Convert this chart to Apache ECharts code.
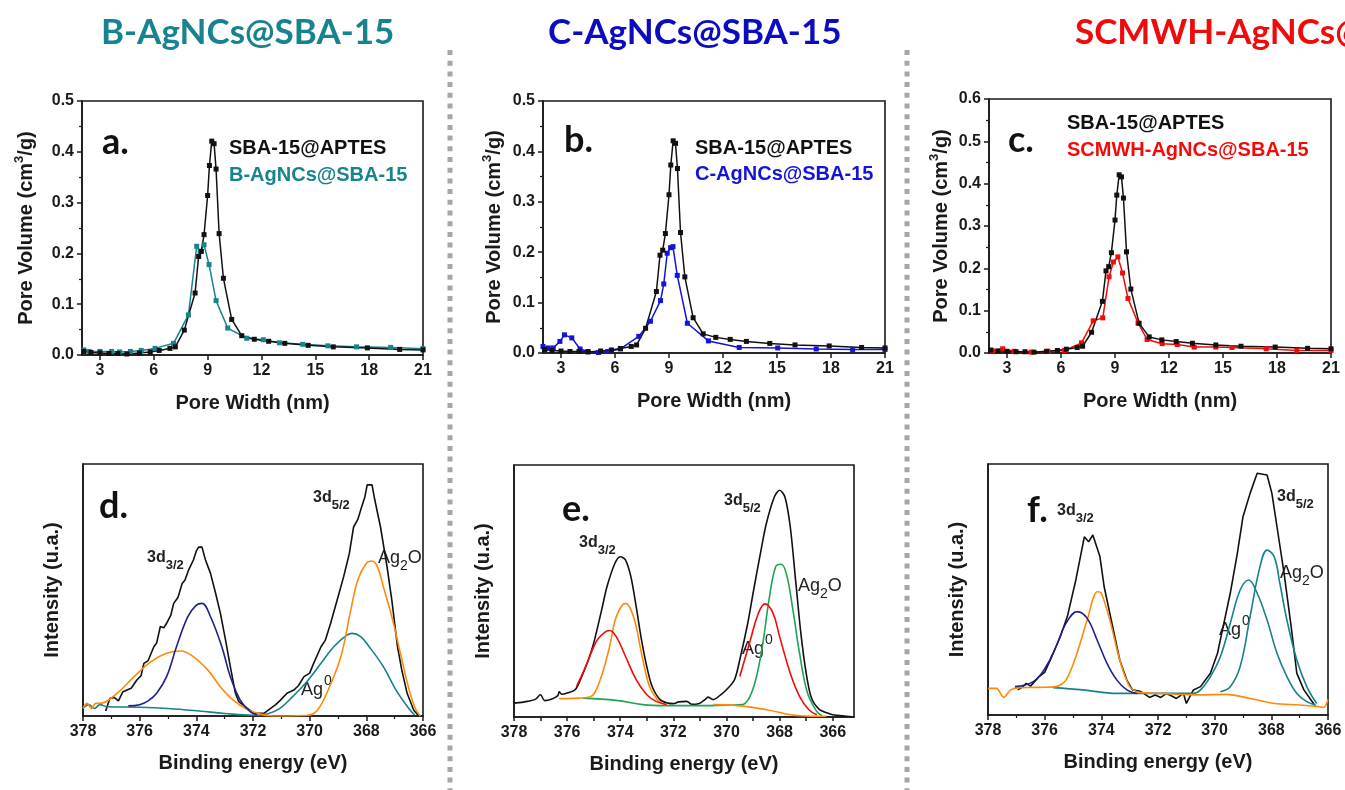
<!DOCTYPE html>
<html>
<head>
<meta charset="utf-8">
<script src="https://cdn.jsdelivr.net/npm/echarts@6/dist/echarts.min.js"></script>
<style>
  html, body { margin: 0; padding: 0; background: #fff; }
  #main { width: 1345px; height: 790px; }
</style>
</head>
<body>
<div id="main"></div>
<script>
// pore size distribution (nm, cm3/g)
var aptesX = [2.1, 2.5, 3.0, 3.5, 4.0, 4.5, 5.2, 5.8, 6.3, 6.9, 7.2, 7.7, 8.3, 8.5, 8.65, 8.8, 9.0, 9.1, 9.23, 9.36, 9.47, 9.64, 9.88, 10.34, 10.9, 11.6, 12.4, 13.3, 14.6, 16.0, 17.9, 19.7, 21];
var aptesY = [0.007, 0.005, 0.004, 0.003, 0.003, 0.002, 0.004, 0.006, 0.009, 0.013, 0.016, 0.049, 0.122, 0.194, 0.204, 0.237, 0.314, 0.373, 0.421, 0.416, 0.366, 0.239, 0.151, 0.070, 0.038, 0.031, 0.027, 0.023, 0.019, 0.016, 0.014, 0.011, 0.010];
var bAgX = [2.1, 2.4, 3.0, 3.65, 4.1, 4.7, 5.3, 6.07, 7.1, 7.93, 8.39, 8.58, 8.8, 9.08, 9.47, 10.12, 11.18, 12.1, 13.0, 14.3, 15.7, 17.3, 19.2, 21];
var bAgY = [0.010, 0.007, 0.007, 0.007, 0.006, 0.007, 0.009, 0.013, 0.023, 0.079, 0.214, 0.204, 0.217, 0.178, 0.107, 0.053, 0.033, 0.030, 0.024, 0.021, 0.018, 0.016, 0.015, 0.0125];
var cAgX = [2.0, 2.29, 2.57, 2.94, 3.19, 3.6, 4.06, 4.5, 5.08, 5.6, 6.3, 7.32, 7.97, 8.53, 8.71, 8.9, 9.09, 9.22, 9.46, 10.02, 11.19, 12.9, 15.04, 17.18, 19.2, 21];
var cAgY = [0.013, 0.010, 0.010, 0.023, 0.036, 0.030, 0.008, 0.003, 0.001, 0.003, 0.008, 0.033, 0.063, 0.104, 0.137, 0.198, 0.209, 0.211, 0.154, 0.059, 0.024, 0.011, 0.010, 0.008, 0.007, 0.007];
var sAgX = [2.2, 2.76, 3.4, 4.34, 5.28, 6.2, 7.14, 7.79, 8.32, 8.67, 8.91, 9.16, 9.42, 9.72, 10.28, 10.78, 11.62, 12.46, 13.4, 14.6, 15.5, 17.4, 19.1, 21];
var sAgY = [0.005, 0.010, 0.004, 0.002, 0.004, 0.006, 0.024, 0.076, 0.083, 0.180, 0.215, 0.227, 0.189, 0.129, 0.071, 0.032, 0.022, 0.020, 0.014, 0.014, 0.013, 0.010, 0.006, 0.006];
var poreTicks = [3, 6, 9, 12, 15, 18, 21];

// XPS Ag 3d, [binding energy eV, relative intensity]
var dEnv = [[377.2,0.02],[377.05,0.07],[376.9,0.074],[376.75,0.06],[376.6,0.095],[376.45,0.103],[376.3,0.11],[376.1,0.143],[375.95,0.16],[375.85,0.209],[375.7,0.22],[375.5,0.275],[375.4,0.29],[375.27,0.355],[375.15,0.35],[375.05,0.368],[374.9,0.4],[374.8,0.447],[374.65,0.47],[374.5,0.526],[374.4,0.54],[374.27,0.58],[374.1,0.62],[374.0,0.655],[373.92,0.67],[373.8,0.67],[373.68,0.62],[373.5,0.566],[373.32,0.487],[373.15,0.407],[372.97,0.302],[372.8,0.196],[372.62,0.09],[372.5,0.057],[372.2,0.03],[371.96,0.011],[371.6,0.011],[371.38,0.03],[371.2,0.045],[371.03,0.063],[370.8,0.09],[370.56,0.103],[370.4,0.12],[370.2,0.156],[370.0,0.17],[369.86,0.209],[369.6,0.275],[369.45,0.3],[369.26,0.368],[369.03,0.46],[368.8,0.553],[368.6,0.645],[368.45,0.75],[368.3,0.78],[368.2,0.817],[368.05,0.87],[367.97,0.917],[367.8,0.917],[367.7,0.857],[367.5,0.75],[367.27,0.593],[367.1,0.46],[366.9,0.275],[366.75,0.183],[366.56,0.09],[366.33,0.024],[366.15,0.0]];
var dNavy = [[376.4,0.04],[376.0,0.045],[375.7,0.06],[375.4,0.09],[375.05,0.156],[374.7,0.275],[374.3,0.394],[374.0,0.44],[373.8,0.447],[373.5,0.394],[373.1,0.275],[372.8,0.156],[372.45,0.063],[372.1,0.017],[371.85,0.004]];
var dOrange = [[378,0.03],[377.85,0.05],[377.7,0.03],[377.55,0.05],[377.4,0.05],[376.8,0.09],[376.2,0.156],[375.6,0.216],[375.05,0.249],[374.55,0.258],[374.1,0.235],[373.6,0.183],[373.15,0.116],[372.7,0.063],[372.2,0.026],[371.75,0.008],[371.3,0.0],[370.2,0.002],[369.85,0.01],[369.6,0.044],[369.3,0.116],[368.9,0.235],[368.55,0.42],[368.3,0.54],[368.0,0.606],[367.8,0.615],[367.6,0.59],[367.4,0.513],[367.1,0.394],[366.8,0.25],[366.55,0.13],[366.3,0.037],[366.1,0.0]];
var dTeal = [[378,0.03],[377.8,0.045],[377.6,0.03],[377.4,0.045],[377.15,0.037],[376,0.035],[375,0.03],[373.9,0.02],[373,0.01],[372,0.003],[371.5,0.008],[371.05,0.03],[370.6,0.077],[370.1,0.136],[369.6,0.209],[369.15,0.275],[368.7,0.32],[368.5,0.328],[368.2,0.315],[367.9,0.275],[367.4,0.196],[366.95,0.103],[366.5,0.03],[366.3,0.004]];

var eEnv = [[378,0.055],[377.7,0.058],[377.5,0.062],[377.2,0.07],[377.0,0.088],[376.85,0.065],[376.6,0.07],[376.35,0.085],[376.3,0.1],[376.2,0.09],[376.0,0.095],[375.7,0.108],[375.5,0.148],[375.2,0.227],[375.0,0.293],[374.7,0.425],[374.5,0.517],[374.2,0.61],[374.0,0.636],[373.8,0.623],[373.6,0.557],[373.4,0.438],[373.2,0.306],[373.0,0.2],[372.8,0.121],[372.5,0.069],[372.2,0.055],[372.0,0.053],[371.8,0.06],[371.5,0.062],[371.3,0.05],[371.0,0.055],[370.8,0.07],[370.7,0.079],[370.5,0.069],[370.2,0.09],[370.0,0.108],[369.7,0.148],[369.5,0.227],[369.2,0.372],[369.0,0.491],[368.7,0.662],[368.5,0.768],[368.2,0.873],[368.0,0.9],[367.8,0.873],[367.6,0.755],[367.4,0.544],[367.2,0.332],[367.0,0.174],[366.8,0.075],[366.5,0.029],[366.2,0.016],[366.0,0.009],[365.5,0.003],[365.2,0.0]];
var eRedLow = [[375.65,0.121],[375.3,0.2],[374.9,0.3],[374.6,0.335],[374.4,0.343],[374.15,0.319],[373.8,0.24],[373.4,0.148],[373.0,0.088],[372.65,0.062],[372.25,0.049]];
var eRedHigh = [[369.5,0.161],[369.1,0.306],[368.8,0.412],[368.55,0.449],[368.25,0.412],[368.0,0.319],[367.6,0.174],[367.25,0.082],[366.9,0.029],[366.6,0.009]];
var eOrangePeak = [[376.3,0.073],[375.6,0.075],[375.15,0.079],[374.8,0.135],[374.4,0.28],[374.15,0.398],[373.8,0.451],[373.5,0.398],[373.2,0.253],[372.9,0.121],[372.6,0.069],[372.3,0.049]];
var eOrangeBase = [[370.5,0.049],[369.6,0.045],[368.5,0.029],[367.25,0.005],[366.25,0.003]];
var eGreen = [[375.4,0.075],[374.15,0.066],[373.15,0.049],[372.3,0.045],[371,0.045],[370,0.047],[369.4,0.049],[369.15,0.075],[368.9,0.148],[368.65,0.28],[368.4,0.464],[368.15,0.596],[367.95,0.606],[367.75,0.57],[367.5,0.425],[367.25,0.253],[366.95,0.095],[366.6,0.022],[366.4,0.005]];
var eTicks = [366, 368, 370, 372, 374, 376, 378];
var eMinorTicks = [365, 366, 367, 368, 369, 370, 371, 372, 373, 374, 375, 376, 377, 378];

var fEnv = [[376.95,0.1],[376.8,0.11],[376.65,0.126],[376.5,0.115],[376.2,0.153],[376.0,0.17],[375.8,0.219],[375.45,0.312],[375.2,0.392],[374.9,0.538],[374.6,0.71],[374.45,0.69],[374.3,0.717],[374.05,0.631],[373.9,0.511],[373.6,0.352],[373.35,0.219],[373.1,0.139],[372.9,0.1],[372.6,0.093],[372.3,0.07],[372.1,0.08],[371.9,0.07],[371.7,0.086],[371.5,0.075],[371.35,0.066],[371.1,0.086],[371.0,0.046],[370.75,0.1],[370.5,0.113],[370.15,0.166],[369.9,0.246],[369.7,0.352],[369.45,0.485],[369.2,0.644],[369.0,0.79],[368.75,0.883],[368.5,0.963],[368.15,0.956],[367.98,0.883],[367.8,0.75],[367.55,0.564],[367.3,0.352],[367.1,0.166],[366.85,0.1],[366.6,0.06],[366.45,0.036]];
var fNavy = [[377.05,0.113],[376.4,0.133],[375.95,0.193],[375.6,0.272],[375.25,0.365],[374.85,0.412],[374.5,0.385],[374.15,0.299],[373.8,0.206],[373.45,0.139],[373.1,0.1],[372.75,0.086]];
var fOrange = [[378,0.106],[377.7,0.106],[377.45,0.07],[377.2,0.1],[376.9,0.109],[376.2,0.11],[375.6,0.113],[375.25,0.139],[374.9,0.232],[374.5,0.378],[374.15,0.491],[374.0,0.485],[373.7,0.378],[373.35,0.219],[373.0,0.113],[372.65,0.09],[371.9,0.086],[370.5,0.08],[369.6,0.082],[368.75,0.066],[367.9,0.046],[367,0.04],[366.3,0.033],[366.15,0.03],[366.0,0.062]];
var fTealAg0 = [[375.7,0.109],[374.65,0.1],[373.45,0.086],[372.3,0.086],[370.75,0.086],[370.5,0.1],[370.15,0.153],[369.8,0.232],[369.45,0.365],[369.1,0.498],[368.8,0.538],[368.5,0.485],[368.15,0.378],[367.8,0.246],[367.45,0.153],[367.1,0.086],[366.75,0.053],[366.45,0.04]];
var fTealAg2O = [[369.8,0.093],[369.45,0.113],[369.1,0.193],[368.75,0.392],[368.4,0.591],[368.15,0.657],[367.9,0.631],[367.7,0.525],[367.45,0.378],[367.1,0.219],[366.75,0.113],[366.4,0.046]];

var chart = echarts.init(document.getElementById('main'));

var AX = '#1a1a1a';
var FONT = '"Liberation Sans", Arial, sans-serif';
var TITLE_FONT = 'Lato, "Open Sans", sans-serif';
var C_TEAL = '#17838f', C_BLUE = '#1414d8', C_RED = '#f50a0a';
var C_NAVY = '#1f1f8c', C_ORANGE = '#ff8a0a', C_GREEN = '#1fa352', C_XTEAL = '#16808c';

function zip(xs, ys) {
  return xs.map(function (x, i) { return [x, ys[i]]; });
}

var grids = [
  {left: 82, top: 101, width: 341, height: 254},
  {left: 543, top: 101, width: 342, height: 252},
  {left: 989, top: 99, width: 342, height: 254},
  {left: 83, top: 464, width: 340, height: 252},
  {left: 514, top: 465, width: 340, height: 252},
  {left: 988, top: 464, width: 340, height: 251}
].map(function (g) {
  g.show = true; g.borderColor = AX; g.borderWidth = 1.6; g.backgroundColor = 'transparent';
  g.containLabel = false;
  return g;
});

var nameRich = {
  sup: {fontSize: 13, fontWeight: 'bold', fontFamily: FONT, color: AX, padding: [0, 0, 10, 0], verticalAlign: 'bottom', lineHeight: 13},
  n: {fontSize: 20, fontWeight: 'bold', fontFamily: FONT, color: AX, verticalAlign: 'bottom', lineHeight: 22}
};
var labelStyle = {color: AX, fontSize: 16, fontWeight: 'bold', fontFamily: FONT, margin: 8};
var nameStyle = {color: AX, fontSize: 20, fontWeight: 'bold', fontFamily: FONT};

function poreX(i) {
  return {
    gridIndex: i, type: 'value', min: 2, max: 21,
    axisLine: {onZero: false, lineStyle: {color: AX, width: 1.6}},
    axisTick: {customValues: poreTicks, length: 5, lineStyle: {color: AX, width: 1.5}},
    axisLabel: Object.assign({customValues: poreTicks}, labelStyle),
    splitLine: {show: false},
    name: 'Pore Width (nm)', nameLocation: 'middle', nameGap: 38,
    nameTextStyle: nameStyle
  };
}
function poreY(i, max, gap) {
  return {
    gridIndex: i, type: 'value', min: 0, max: max, interval: 0.1,
    axisLine: {lineStyle: {color: AX, width: 1.6}},
    axisTick: {length: 5, lineStyle: {color: AX, width: 1.5}},
    minorTick: {show: true, splitNumber: 2, length: 3, lineStyle: {color: AX, width: 1.2}},
    axisLabel: Object.assign({formatter: function (v) { return v.toFixed(1); }}, labelStyle),
    splitLine: {show: false},
    name: '{n|Pore Volume (cm}{sup|3}{n|/g)}', nameLocation: 'middle', nameGap: gap,
    nameTextStyle: {rich: nameRich}
  };
}
function xpsX(i, min, ticks, minor) {
  var ax = {
    gridIndex: i, type: 'value', min: min, max: 378, inverse: true,
    axisLine: {onZero: false, lineStyle: {color: AX, width: 1.6}},
    axisTick: {length: 5, lineStyle: {color: AX, width: 1.5}},
    axisLabel: Object.assign({}, labelStyle),
    splitLine: {show: false},
    name: 'Binding energy (eV)', nameLocation: 'middle', nameGap: 37,
    nameTextStyle: nameStyle
  };
  if (ticks) {
    ax.axisTick.customValues = minor;
    ax.axisTick.length = 4;
    ax.axisLabel.customValues = ticks;
  } else {
    ax.interval = 2;
    ax.minorTick = {show: true, splitNumber: 2, length: 3, lineStyle: {color: AX, width: 1.2}};
  }
  return ax;
}
function xpsY(i) {
  return {
    gridIndex: i, type: 'value', min: 0, max: 1,
    axisLine: {lineStyle: {color: AX, width: 1.6}},
    axisTick: {show: false}, axisLabel: {show: false}, splitLine: {show: false},
    name: 'Intensity (u.a.)', nameLocation: 'middle', nameGap: 21,
    nameTextStyle: nameStyle
  };
}

function pore(data, i, color) {
  return {
    type: 'line', xAxisIndex: i, yAxisIndex: i, data: data,
    symbol: 'rect', symbolSize: 5, showSymbol: true,
    lineStyle: {color: color, width: 1.5}, itemStyle: {color: color}
  };
}
function xps(data, i, color, smooth) {
  return {
    type: 'line', xAxisIndex: i, yAxisIndex: i, data: data,
    showSymbol: false, smooth: smooth || false,
    lineStyle: {color: color, width: 1.6}, itemStyle: {color: color}
  };
}

var series = [
  pore(zip(bAgX, bAgY), 0, C_TEAL),
  pore(zip(aptesX, aptesY), 0, '#111'),
  pore(zip(cAgX, cAgY), 1, C_BLUE),
  pore(zip(aptesX, aptesY), 1, '#111'),
  pore(zip(sAgX, sAgY), 2, C_RED),
  pore(zip(aptesX, aptesY), 2, '#111'),

  xps(dEnv, 3, '#111'),
  xps(dTeal, 3, C_XTEAL, 0.4),
  xps(dOrange, 3, C_ORANGE, 0.4),
  xps(dNavy, 3, C_NAVY, 0.4),

  xps(eEnv, 4, '#111', 0.3),
  xps(eGreen, 4, C_GREEN, 0.4),
  xps(eOrangeBase, 4, C_ORANGE, 0.4),
  xps(eOrangePeak, 4, C_ORANGE, 0.4),
  xps(eRedLow, 4, C_RED, 0.4),
  xps(eRedHigh, 4, C_RED, 0.4),

  xps(fEnv, 5, '#111'),
  xps(fTealAg0, 5, C_XTEAL, 0.4),
  xps(fTealAg2O, 5, C_XTEAL, 0.4),
  xps(fOrange, 5, C_ORANGE, 0.3),
  xps(fNavy, 5, C_NAVY, 0.4)
];

// text elements
var subRich = {
  n: {fontSize: 16, fontWeight: 'bold', fontFamily: FONT, fill: '#222', verticalAlign: 'bottom', lineHeight: 18, padding: [0, 0, 6, 0]},
  s: {fontSize: 13, fontWeight: 'bold', fontFamily: FONT, fill: '#222', verticalAlign: 'bottom', lineHeight: 14}
};
var agRich = {
  n: {fontSize: 18, fontFamily: FONT, fill: '#222', verticalAlign: 'bottom', lineHeight: 20, padding: [0, 0, 6, 0]},
  s: {fontSize: 14, fontFamily: FONT, fill: '#222', verticalAlign: 'bottom', lineHeight: 14},
  p: {fontSize: 14, fontFamily: FONT, fill: '#222', verticalAlign: 'bottom', lineHeight: 14, padding: [0, 0, 17, 1]}
};
function txt(x, y, text, size, color, font, weight) {
  return {type: 'text', x: x, y: y, style: {text: text, fill: color, fontSize: size,
    fontFamily: font || FONT, fontWeight: weight || 'bold', verticalAlign: 'middle', align: 'left'}};
}
function rtxt(x, y, text, rich) {
  return {type: 'text', x: x, y: y, style: {text: text, rich: rich, verticalAlign: 'middle', align: 'left'}};
}
function sep(x) {
  return {type: 'line', shape: {x1: x, y1: 50, x2: x, y2: 790},
    style: {stroke: '#a6a6a6', lineWidth: 5, lineDash: [5, 5.7]}};
}

var graphic = [
  sep(450), sep(907),
  txt(101, 33, 'B-AgNCs@SBA-15', 35, C_TEAL, TITLE_FONT),
  txt(548, 33, 'C-AgNCs@SBA-15', 35, '#0b0bc0', TITLE_FONT),
  txt(1075, 33, 'SCMWH-AgNCs@SBA-15', 35, '#f00a0a', TITLE_FONT),

  txt(102, 142, 'a.', 36, '#111', TITLE_FONT),
  txt(564, 140, 'b.', 36, '#111', TITLE_FONT),
  txt(1008, 140, 'c.', 36, '#111', TITLE_FONT),
  txt(99, 506, 'd.', 36, '#111', TITLE_FONT),
  txt(562, 509, 'e.', 36, '#111', TITLE_FONT),
  txt(1027, 510, 'f.', 36, '#111', TITLE_FONT),

  txt(229, 148, 'SBA-15@APTES', 20, '#111'),
  txt(229, 175, 'B-AgNCs@SBA-15', 20, C_TEAL),
  txt(695, 148, 'SBA-15@APTES', 20, '#111'),
  txt(695, 174, 'C-AgNCs@SBA-15', 20, C_BLUE),
  txt(1067, 123, 'SBA-15@APTES', 20, '#111'),
  txt(1067, 150, 'SCMWH-AgNCs@SBA-15', 20, C_RED),

  rtxt(147, 563, '{n|3d}{s|3/2}', subRich),
  rtxt(313, 503, '{n|3d}{s|5/2}', subRich),
  rtxt(378, 563, '{n|Ag}{s|2}{n|O}', agRich),
  rtxt(301, 695, '{n|Ag}{p|0}', agRich),

  rtxt(579, 548, '{n|3d}{s|3/2}', subRich),
  rtxt(724, 506, '{n|3d}{s|5/2}', subRich),
  rtxt(798, 591, '{n|Ag}{s|2}{n|O}', agRich),
  rtxt(742, 654, '{n|Ag}{p|0}', agRich),

  rtxt(1057, 516, '{n|3d}{s|3/2}', subRich),
  rtxt(1277, 502, '{n|3d}{s|5/2}', subRich),
  rtxt(1280, 578, '{n|Ag}{s|2}{n|O}', agRich),
  rtxt(1219, 635, '{n|Ag}{p|0}', agRich)
];

chart.setOption({
  backgroundColor: '#fff',
  animation: false,
  grid: grids,
  xAxis: [poreX(0), poreX(1), poreX(2), xpsX(3, 366), xpsX(4, 365.2, eTicks, eMinorTicks), xpsX(5, 366)],
  yAxis: [poreY(0, 0.5, 46), poreY(1, 0.5, 39), poreY(2, 0.6, 38), xpsY(3), xpsY(4), xpsY(5)],
  series: series,
  graphic: graphic
});
</script>
</body>
</html>
